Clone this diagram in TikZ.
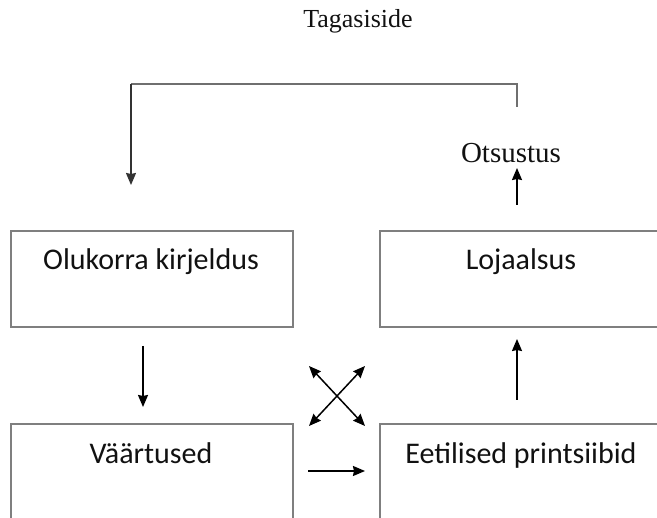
\documentclass[tikz,border=0pt]{standalone}
\usepackage{fontspec}
\setmainfont{Liberation Serif}
\newfontfamily\boxfont{Carlito}
\usetikzlibrary{arrows.meta}
\definecolor{boxgray}{HTML}{7F7F7F}
\definecolor{linegray}{HTML}{6F6F6F}
\definecolor{textdark}{HTML}{111111}
\begin{document}
\begin{tikzpicture}[x=1pt,y=-1pt,
  box/.style={draw=boxgray, line width=2pt, minimum width=282pt, minimum height=96pt, inner sep=0pt, outer sep=0pt},
  lbl/.style={font=\boxfont\fontsize{30}{36}\selectfont, text=textdark, inner sep=0pt, anchor=base},
  serif/.style={font=\fontsize{#1}{#1}\selectfont, text=textdark, inner sep=0pt, anchor=base},
  tip/.style={Stealth[length=12pt,width=10pt,inset=1pt]},
  arr/.style={line width=1.5pt, -{Stealth[length=12pt,width=10pt,inset=1pt]}},
  darr/.style={line width=1.5pt, {Stealth[length=12pt,width=10pt,inset=1pt]}-{Stealth[length=12pt,width=10pt,inset=1pt]}},
  fbline/.style={draw=linegray, line width=1.4pt}]
\useasboundingbox (0,0) rectangle (657,518);
\clip (0,0) rectangle (657,518);
% boxes
\node[box] (b1) at (152,279) {};
\node[box] (b2) at (521,279) {};
\node[box] (b3) at (152,472) {};
\node[box] (b4) at (521,472) {};
% labels
\node[lbl] (t1) at (151,270) {Olukorra kirjeldus};
\node[lbl] (t2) at (521,270) {Lojaalsus};
\node[lbl] (t3) at (151,464) {Väärtused};
\node[lbl] (t4) at (521,464) {Eetilised printsiibid};
\node[serif=26] (tag) at (358,28) {Tagasiside};
\node[serif=29] (ots) at (511,163) {Otsustus};
% coordinates
\coordinate (fbA) at (517,107);
\coordinate (fbB) at (517,84);
\coordinate (fbC) at (131,84);
\coordinate (fbD) at (131,185);
\coordinate (oA) at (517,205);
\coordinate (oB) at (517,168);
\coordinate (dA) at (143,346);
\coordinate (dB) at (143,407);
\coordinate (uA) at (517,400);
\coordinate (uB) at (517,339);
\coordinate (rA) at (308,471);
\coordinate (rB) at (365,471);
\coordinate (x1) at (309,366);
\coordinate (x2) at (365,426);
\coordinate (x3) at (365,366);
\coordinate (x4) at (309,426);
% connectors
\draw[fbline] (fbA) -- (fbB) -- (fbC);
\draw[arr, draw=black!80] (fbC) -- (fbD);
\draw[arr] (oA) -- (oB);
\draw[arr] (dA) -- (dB);
\draw[arr] (uA) -- (uB);
\draw[arr] (rA) -- (rB);
\draw[darr] (x1) -- (x2);
\draw[darr] (x3) -- (x4);
\end{tikzpicture}
\end{document}
